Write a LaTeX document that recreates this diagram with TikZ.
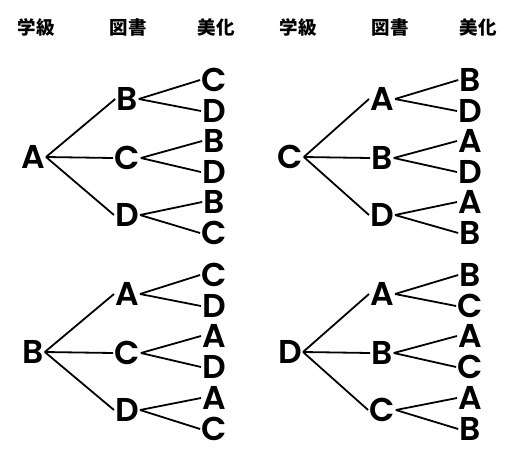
\documentclass[tikz,border=0pt]{standalone}
\usepackage{fontspec}
\setmainfont{Poppins}[BoldFont={Poppins SemiBold}]
\newfontfamily\cjk{Noto Sans CJK JP}
\begin{document}
\begin{tikzpicture}[x=1pt,y=-1pt,
  lbl/.style={font=\fontsize{33}{33}\selectfont\bfseries, inner sep=1pt, text height=23pt, text depth=0pt},
  hdr/.style={font=\cjk\fontsize{18.5}{18.5}\selectfont\bfseries, inner sep=0pt},
  edge/.style={line width=1.8pt}]
\useasboundingbox (0,0) rectangle (512,459);
% headers
\node[hdr] (h1) at (36,27) {学級};
\node[hdr] (h2) at (128,27) {図書};
\node[hdr] (h3) at (216,27) {美化};
\node[hdr] (h4) at (298,27) {学級};
\node[hdr] (h5) at (390,27) {図書};
\node[hdr] (h6) at (478,27) {美化};
% Tree 1: root A
\node[lbl] (r1) at (33,157) {A};
\node[lbl] (m11) at (127,99) {B};
\node[lbl] (m12) at (127,158) {C};
\node[lbl] (m13) at (127,215) {D};
\node[lbl] (l111) at (214,80) {C};
\node[lbl] (l112) at (214,111) {D};
\node[lbl] (l121) at (214,141) {B};
\node[lbl] (l122) at (214,172) {D};
\node[lbl] (l131) at (214,202) {B};
\node[lbl] (l132) at (214,233) {C};
% Tree 2: root C
\node[lbl] (r2) at (290,157) {C};
\node[lbl] (m21) at (382,99) {A};
\node[lbl] (m22) at (382,158) {B};
\node[lbl] (m23) at (382,215) {D};
\node[lbl] (l211) at (470,80) {B};
\node[lbl] (l212) at (470,111) {D};
\node[lbl] (l221) at (470,141) {A};
\node[lbl] (l222) at (470,172) {D};
\node[lbl] (l231) at (470,202) {A};
\node[lbl] (l232) at (470,233) {B};
% Tree 3: root B
\node[lbl] (r3) at (33,352) {B};
\node[lbl] (m31) at (127,294) {A};
\node[lbl] (m32) at (127,353) {C};
\node[lbl] (m33) at (127,410) {D};
\node[lbl] (l311) at (214,275) {C};
\node[lbl] (l312) at (214,306) {D};
\node[lbl] (l321) at (214,336) {A};
\node[lbl] (l322) at (214,367) {D};
\node[lbl] (l331) at (214,398) {A};
\node[lbl] (l332) at (214,429) {C};
% Tree 4: root D
\node[lbl] (r4) at (290,352) {D};
\node[lbl] (m41) at (382,294) {A};
\node[lbl] (m42) at (382,353) {B};
\node[lbl] (m43) at (382,410) {C};
\node[lbl] (l411) at (470,275) {B};
\node[lbl] (l412) at (470,306) {C};
\node[lbl] (l421) at (470,336) {A};
\node[lbl] (l422) at (470,367) {C};
\node[lbl] (l431) at (470,398) {A};
\node[lbl] (l432) at (470,429) {B};
% edges
\foreach \t in {1,2,3,4}{
  \foreach \m in {1,2,3}{
    \draw[edge] (r\t.east) -- (m\t\m.west);
    \draw[edge] (m\t\m.east) -- (l\t\m1.west);
    \draw[edge] (m\t\m.east) -- (l\t\m2.west);
  }
}
\end{tikzpicture}
\end{document}
